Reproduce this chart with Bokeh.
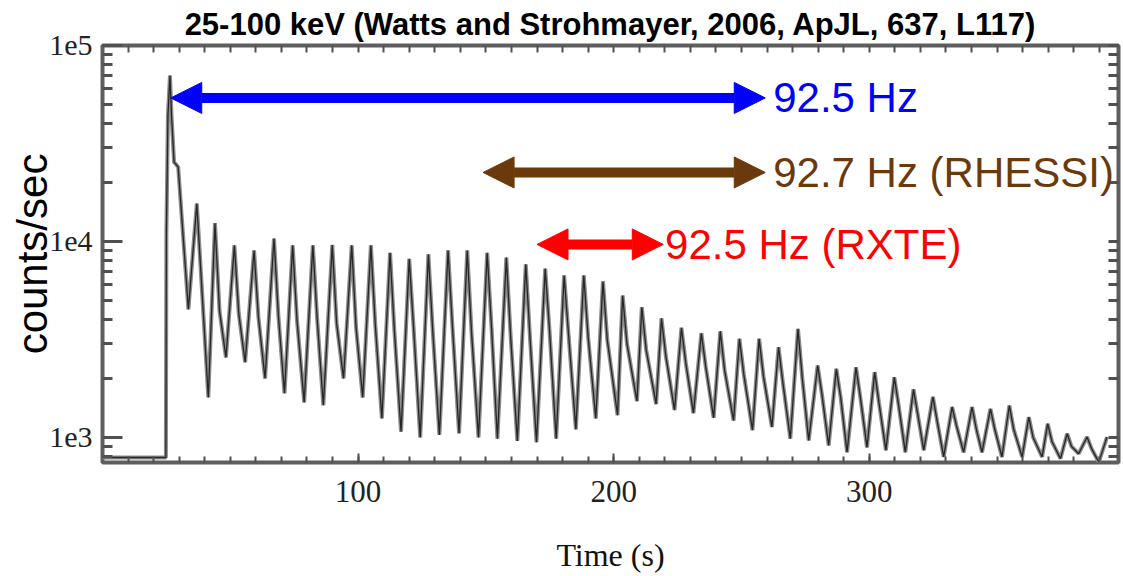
from bokeh.plotting import figure
from bokeh.models import (Range1d, FixedTicker, LinearAxis, LogAxis, Arrow,
                          NormalHead, Label, ColumnDataSource)
from bokeh.embed import file_html
from bokeh.resources import INLINE

# ---------------- data ----------------
title_text = "25-100 keV (Watts and Strohmayer, 2006, ApJL, 637, L117)"

# burst onset and initial spike
onset_t = [0.0, 24.8, 25.0, 25.6, 26.4, 27.0, 28.0, 29.6, 33.6]
onset_c = [790, 790, 11100, 44000, 70300, 44000, 25400, 24000, 4500]

# pulse maxima
peak_t = [36.9, 44.0, 51.6, 59.3, 67.1, 74.4, 82.3, 89.9, 97.5, 105.0,
          112.5, 120.0, 127.5, 135.2, 142.7, 150.5, 158.0, 165.6, 173.2, 180.6,
          188.3, 195.8, 203.5, 211.0, 218.7, 226.5, 234.3, 241.7, 249.2, 256.9,
          264.5, 272.1, 279.8, 287.1, 294.8, 302.1, 309.8, 317.3, 324.9, 332.4,
          340.2, 347.4, 354.8, 362.4, 369.8, 377.4, 385.2]
peak_c = [15600, 12400, 9560, 9000, 10350, 9560, 9560, 9600, 9560, 9560,
          8750, 8150, 8600, 9000, 9000, 8750, 8270, 7640, 7270, 6710,
          6710, 6250, 5300, 4620, 4050, 3630, 3400, 3480, 3190, 3190,
          2890, 3580, 2330, 2240, 2280, 2155, 2030, 1760, 1610, 1430,
          1430, 1400, 1455, 1270, 1175, 1045, 1005]

# interpulse shoulders
shoulder_t = [45.8, 53.3, 61.0, 68.8, 76.1, 84.0, 91.6, 99.2, 106.7,
              114.2, 121.7, 129.2, 136.9, 144.4, 152.2, 159.7, 167.3, 174.9, 182.3,
              190.0, 197.5, 205.2, 212.7, 220.4, 228.2, 236.0, 243.4, 250.9, 258.6,
              266.2, 273.8, 281.5, 288.8, 296.5, 303.8, 311.5, 319.0, 326.6, 334.1,
              341.9, 349.1, 356.5, 364.1, 371.5, 379.1, 386.9]
shoulder_c = [4400, 4300, 4100, 4200, 3950, 4000, 3820, 3640, 3800,
              3500, 3650, 3500, 3700, 3400, 3650, 3250, 3150, 3500, 3400,
              3250, 3140, 3000, 2800, 2600, 2400, 2300, 2200, 2100, 2050,
              1900, 2000, 1650, 1600, 1600, 1500, 1450, 1300, 1200, 1150,
              1100, 1100, 1100, 1000, 950, 900, 880]

# pulse minima
trough_t = [41.4, 48.3, 55.8, 63.6, 71.2, 78.9, 86.4, 94.3, 101.8, 109.3,
            116.8, 124.3, 131.8, 139.5, 147.1, 154.5, 162.3, 169.8, 177.5, 185.2,
            193.0, 201.5, 209.1, 216.6, 223.8, 231.2, 239.1, 246.9, 254.3, 261.9,
            269.1, 276.3, 284.1, 291.3, 299.1, 306.5, 314.1, 321.3, 329.1, 336.9,
            344.1, 351.9, 359.8, 367.6, 374.8, 381.9, 389.8]
trough_c = [1600, 2560, 2420, 2000, 1680, 1510, 1460, 2000, 1600, 1250,
            1070, 1000, 1030, 1050, 1000, 985, 960, 945, 985, 1100,
            1250, 1300, 1530, 1480, 1380, 1330, 1260, 1220, 1090, 1130,
            985, 965, 910, 840, 890, 860, 840, 860, 795, 840,
            840, 795, 795, 795, 780, 826, 748]

tail_t = [393.0]
tail_c = [1005]

x_tick_values = [100, 200, 300]
x_tick_labels = ["100", "200", "300"]
y_tick_values = [1e3, 1e4, 1e5]
y_tick_labels = ["1e3", "1e4", "1e5"]

arrow_x_start = [26.7, 148.9, 170.0]
arrow_x_end = [259.3, 259.3, 219.4]
arrow_y = [54000, 22500, 9660]
arrow_colors = ["#0000ff", "#6b3a0c", "#ff0000"]
label_texts = ["92.5 Hz", "92.7 Hz (RHESSI)", "92.5 Hz (RXTE)"]
label_x = [262.4, 262.4, 220.1]

# ---------------- figure ----------------
p = figure(width=1123, height=576, y_axis_type="log",
           x_range=Range1d(0, 397.5), y_range=Range1d(745, 1e5),
           output_backend="svg", toolbar_location=None,
           min_border_left=102, min_border_right=5,
           min_border_top=45, min_border_bottom=114,
           background_fill_color="white", border_fill_color="white")

p.title.text = title_text
p.title.align = "center"
p.title.text_font = "Liberation Sans"
p.title.text_font_size = "31px"
p.title.text_font_style = "bold"
p.title.text_color = "black"
p.title.standoff = 8

p.xgrid.visible = False
p.ygrid.visible = False
p.outline_line_color = "#5e5e5e"
p.outline_line_width = 4

x_minor = [v for v in range(10, 400, 10)]
y_minor = [m * 10 ** k for k in (2, 3, 4) for m in range(2, 10) if 745 <= m * 10 ** k <= 1e5]

tick_col = "#505050"

xa = p.xaxis[0]
xa.ticker = FixedTicker(ticks=x_tick_values, minor_ticks=x_minor)
xa.major_label_overrides = {float(v): s for v, s in zip(x_tick_values, x_tick_labels)}
xa.axis_line_color = None
xa.major_tick_in = 9
xa.major_tick_out = 0
xa.minor_tick_in = 6
xa.minor_tick_out = 0
xa.major_tick_line_color = tick_col
xa.minor_tick_line_color = tick_col
xa.major_tick_line_width = 2
xa.minor_tick_line_width = 2
xa.major_label_text_font = "Liberation Serif"
xa.major_label_text_font_size = "31px"
xa.major_label_text_color = "#222222"
xa.major_label_standoff = 18
xa.axis_label = "Time (s)"
xa.axis_label_text_font = "Liberation Serif"
xa.axis_label_text_font_size = "32px"
xa.axis_label_text_font_style = "normal"
xa.axis_label_text_color = "#111111"
xa.axis_label_standoff = 32

ya = p.yaxis[0]
ya.ticker = FixedTicker(ticks=y_tick_values, minor_ticks=y_minor)
ya.major_label_overrides = {float(v): s for v, s in zip(y_tick_values, y_tick_labels)}
ya.axis_line_color = None
ya.major_tick_in = 20
ya.major_tick_out = 0
ya.minor_tick_in = 10
ya.minor_tick_out = 0
ya.major_tick_line_color = tick_col
ya.minor_tick_line_color = tick_col
ya.major_tick_line_width = 3
ya.minor_tick_line_width = 3
ya.major_label_text_font = "Liberation Serif"
ya.major_label_text_font_size = "30px"
ya.major_label_text_color = "#222222"
ya.major_label_standoff = 10
ya.axis_label = "counts/sec"
ya.axis_label_text_font = "Liberation Sans"
ya.axis_label_text_font_size = "42px"
ya.axis_label_text_font_style = "normal"
ya.axis_label_text_color = "black"
ya.axis_label_standoff = -10

# top and right: tick marks only (no labels)
top_axis = LinearAxis(ticker=FixedTicker(ticks=[], minor_ticks=x_minor),
                      axis_line_color=None, major_tick_in=0, major_tick_out=0,
                      minor_tick_in=7, minor_tick_out=0,
                      minor_tick_line_color=tick_col, minor_tick_line_width=2,
                      major_label_standoff=0)
p.add_layout(top_axis, "above")

right_axis = LogAxis(ticker=FixedTicker(ticks=[], minor_ticks=y_minor + y_tick_values),
                     axis_line_color=None, major_tick_in=0, major_tick_out=0,
                     minor_tick_in=10, minor_tick_out=0,
                     minor_tick_line_color=tick_col, minor_tick_line_width=3,
                     major_label_standoff=0)
p.add_layout(right_axis, "right")

# ---------------- light curve ----------------
pts = sorted(list(zip(onset_t, onset_c)) + list(zip(peak_t, peak_c)) +
             list(zip(shoulder_t, shoulder_c)) + list(zip(trough_t, trough_c)) +
             list(zip(tail_t, tail_c)))
src = ColumnDataSource(dict(t=[a for a, b in pts], c=[b for a, b in pts]))
p.line("t", "c", source=src, line_color="#8c8c8c", line_width=4)
p.line("t", "c", source=src, line_color="#262626", line_width=1.3)

# ---------------- arrows and labels ----------------
for xs, xe, yy, col, txt, lx in zip(arrow_x_start, arrow_x_end, arrow_y,
                                    arrow_colors, label_texts, label_x):
    p.add_layout(Arrow(x_start=xs, y_start=yy, x_end=xe, y_end=yy,
                       line_color=col, line_width=10,
                       start=NormalHead(size=31, fill_color=col, line_color=col, line_width=1),
                       end=NormalHead(size=31, fill_color=col, line_color=col, line_width=1)))
    p.add_layout(Label(x=lx, y=yy, text=txt, text_color=col,
                       text_font="Liberation Sans", text_font_size="42px",
                       text_baseline="middle", text_align="left"))

# small dashed red corner mark at the bottom right (canvas pixels)
p.add_layout(Arrow(x_start=1098, y_start=535, x_end=1098, y_end=576,
                   start_units="canvas", end_units="canvas", end=None,
                   line_color="#ff0000", line_width=2, line_dash="11 7"))
p.add_layout(Arrow(x_start=1105, y_start=535, x_end=1117, y_end=535,
                   start_units="canvas", end_units="canvas", end=None,
                   line_color="#ff0000", line_width=2))

open("out.html", "w").write(file_html(p, INLINE))
